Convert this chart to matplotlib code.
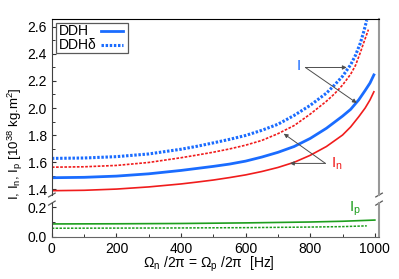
import matplotlib
matplotlib.use("Agg")
import matplotlib.pyplot as plt
from matplotlib.ticker import MultipleLocator
from matplotlib.patches import Rectangle

plt.rcParams['font.family'] = ['Liberation Sans', 'DejaVu Sans']
plt.rcParams['mathtext.fontset'] = 'custom'
plt.rcParams['mathtext.rm'] = 'Liberation Sans'
plt.rcParams['mathtext.it'] = 'Liberation Sans'

# ---- data ----
freq_I = [0, 100, 200, 300, 400, 450, 500, 550, 600, 650, 700, 750, 800, 850, 900, 925, 950, 970, 985, 997]
I_ddh = [1.484, 1.487, 1.496, 1.513, 1.538, 1.553, 1.568, 1.585, 1.607, 1.637, 1.672, 1.715, 1.775,
         1.85, 1.94, 1.99, 2.06, 2.13, 2.185, 2.245]

freq_In = [0, 100, 200, 300, 400, 450, 500, 550, 600, 650, 700, 750, 800, 850, 900, 925, 950, 970, 985, 997]
In_ddh = [1.388, 1.391, 1.400, 1.416, 1.438, 1.452, 1.467, 1.485, 1.505, 1.53, 1.56, 1.598, 1.65,
          1.715, 1.80, 1.86, 1.935, 2.0, 2.06, 2.12]

freq_I_delta = [0, 100, 200, 300, 400, 450, 500, 550, 600, 650, 700, 750, 800, 850, 875, 900, 925,
                940, 955, 965, 975]
I_ddhd = [1.627, 1.630, 1.640, 1.660, 1.695, 1.717, 1.742, 1.768, 1.797, 1.835, 1.88, 1.945, 2.02,
          2.11, 2.17, 2.235, 2.32, 2.39, 2.48, 2.56, 2.65]

freq_In_delta = [0, 100, 200, 300, 400, 450, 500, 550, 600, 650, 700, 750, 800, 850, 875, 900, 925,
                 940, 955, 965, 980]
In_ddhd = [1.562, 1.565, 1.575, 1.597, 1.632, 1.652, 1.673, 1.697, 1.725, 1.76, 1.81, 1.87, 1.955,
           2.05, 2.105, 2.17, 2.25, 2.315, 2.41, 2.48, 2.58]

freq_Ip = [0, 200, 400, 600, 800, 900, 950, 1000]
Ip_ddh = [0.087, 0.088, 0.090, 0.094, 0.100, 0.105, 0.109, 0.113]
freq_Ip_delta = [0, 200, 400, 600, 800, 900, 975]
Ip_ddhd = [0.058, 0.059, 0.060, 0.062, 0.066, 0.069, 0.074]

legend_labels = ['DDH', 'DDH\u03b4']

blue = '#1a6cff'
red = '#f01c1c'
green = '#1d9e1d'

fig = plt.figure(figsize=(3.99, 2.79), dpi=100)
ax1 = fig.add_axes([0.130, 0.301, 0.820, 0.631])
ax2 = fig.add_axes([0.130, 0.151, 0.820, 0.121])

dot_thick = (0, (0.8, 0.55))
dot_thin = (0, (1.6, 0.9))
style_solid = dict(color=blue, lw=2.0)
style_dotted = dict(color=blue, lw=2.2, ls=dot_thick)

ax1.plot(freq_I, I_ddh, **style_solid)
ax1.plot(freq_In, In_ddh, color=red, lw=1.2)
ax1.plot(freq_I_delta, I_ddhd, **style_dotted)
ax1.plot(freq_In_delta, In_ddhd, color=red, lw=1.2, ls=dot_thin)

ax2.plot(freq_Ip, Ip_ddh, color=green, lw=1.2)
ax2.plot(freq_Ip_delta, Ip_ddhd, color=green, lw=1.1, ls=dot_thin)

xmax = 1013
for ax in (ax1, ax2):
    ax.set_xlim(0, xmax)
    ax.xaxis.set_major_locator(MultipleLocator(200))
    ax.xaxis.set_minor_locator(MultipleLocator(100))
    ax.tick_params(which='both', direction='in', labelsize=10, colors='0.2', labelcolor='black')
    ax.tick_params(which='major', length=3, width=0.8)
    ax.tick_params(which='minor', length=2, width=0.7)
    ax.tick_params(right=False, top=False, which='both')
    ax.spines['right'].set_color('0.6')
    ax.spines['right'].set_linewidth(1.5)
    ax.spines['left'].set_color('0.25')

ax1.set_ylim(1.356, 2.659)
ax1.yaxis.set_major_locator(MultipleLocator(0.2))
ax1.yaxis.set_minor_locator(MultipleLocator(0.1))
ax1.yaxis.set_major_formatter(plt.FormatStrFormatter('%.1f'))
ax1.spines['bottom'].set_visible(False)
ax1.tick_params(axis='x', which='both', bottom=False, labelbottom=False)
ax1.spines['top'].set_color('black')

ax2.set_ylim(0, 0.227)
ax2.yaxis.set_major_locator(MultipleLocator(0.2))
ax2.yaxis.set_minor_locator(MultipleLocator(0.1))
ax2.yaxis.set_major_formatter(plt.FormatStrFormatter('%.1f'))
ax2.spines['top'].set_visible(False)
ax2.spines['bottom'].set_color('0.4')

# break marks
kw = dict(color='0.35', lw=0.9, clip_on=False)
dx, dy1 = 0.010, 0.012
for xs in (0, 1):
    ax1.plot([xs - dx, xs + dx], [-dy1 * 0.9, dy1 * 0.9], transform=ax1.transAxes, **kw)
    ax2.plot([xs - dx, xs + dx], [1 - 0.06, 1 + 0.06], transform=ax2.transAxes, **kw)

# legend (labels left-aligned, line samples on the right)
T = ax1.transAxes
ax1.add_patch(Rectangle((0.012, 0.807), 0.220, 0.170, transform=T, fill=True, facecolor='white',
                        edgecolor='0.35', lw=0.9, zorder=5))
ax1.text(0.020, 0.930, legend_labels[0], transform=T, fontsize=10, ha='left', va='center', zorder=6)
ax1.text(0.020, 0.852, legend_labels[1], transform=T, fontsize=10, ha='left', va='center', zorder=6)
ax1.plot([0.149, 0.216], [0.934, 0.934], transform=T, zorder=6, **style_solid)
ax1.plot([0.149, 0.216], [0.850, 0.850], transform=T, zorder=6, **style_dotted)

# annotations
arrow = dict(arrowstyle='-|>', color='0.3', lw=0.7, mutation_scale=6, shrinkA=0, shrinkB=0)
ax1.text(765, 2.311, 'I', color=blue, fontsize=11, ha='center', va='center')
ax1.annotate('', xy=(913, 2.30), xytext=(785, 2.30), arrowprops=arrow)
ax1.annotate('', xy=(944, 2.037), xytext=(785, 2.30), arrowprops=arrow)

ax1.text(863, 1.59, 'I$_\\mathregular{n}$', color=red, fontsize=11, ha='left', va='center')
ax1.annotate('', xy=(737, 1.59), xytext=(847, 1.59), arrowprops=arrow)
ax1.annotate('', xy=(718, 1.81), xytext=(847, 1.59), arrowprops=arrow)

ax2.text(920, 0.19, 'I$_\\mathregular{p}$', color=green, fontsize=11, ha='left', va='center')

fig.text(209 / 399, 1 - 264 / 279, '$\\Omega_\\mathregular{n}$ /2\u03c0 = $\\Omega_\\mathregular{p}$ /2\u03c0  [Hz]',
         ha='center', va='center', fontsize=10)
fig.text(15 / 399, 1 - 144 / 279,
         'I, I$_\\mathregular{n}$, I$_\\mathregular{p}$ [10$^\\mathregular{38}$ kg.m$^\\mathregular{2}$]',
         ha='center', va='center', rotation=90, fontsize=9.5)

fig.savefig('out.png', dpi=100)
